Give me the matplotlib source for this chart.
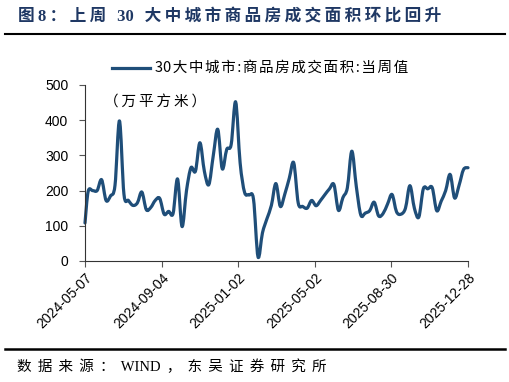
import matplotlib
matplotlib.use('Agg')
import matplotlib.pyplot as plt
import matplotlib.dates as mdates
from matplotlib.path import Path
from matplotlib.patches import PathPatch
from matplotlib.lines import Line2D
import numpy as np
import pandas as pd

# 数据（从图上读取，万平方米）
dates = [pd.Timestamp('2024-05-07')] + list(pd.date_range('2024-05-12', '2025-12-28', freq='7D'))
values = [108, 198, 200, 200, 231, 172, 185, 215, 398, 190,
          172, 158, 165, 196, 146, 152, 172, 178, 133, 141,
          135, 233, 98, 200, 265, 255, 336, 255, 217, 300,
          374, 262, 317, 331, 452, 279, 195, 188, 175, 12,
          80, 120, 158, 220, 155, 190, 235, 279, 165, 155,
          150, 172, 157, 172, 189, 205, 217, 144, 180, 208,
          312, 212, 131, 136, 143, 167, 128, 135, 162, 189,
          140, 133, 150, 214, 150, 125, 205, 205, 208, 143,
          170, 200, 246, 179, 215, 260, 265]
tick_dates = ['2024-05-07', '2024-09-04', '2025-01-02', '2025-05-02', '2025-08-30', '2025-12-28']
series_name = '30大中城市:商品房成交面积:当周值'
title = '图8：上周 30 大中城市商品房成交面积环比回升'
unit = '（万平方米）'
source = '数据来源：WIND，东吴证券研究所'

line_color = '#1f4e79'
cjk = ['Noto Sans CJK SC', 'DejaVu Sans']
serif_cjk = ['Liberation Serif', 'Noto Sans CJK SC', 'DejaVu Sans']


def spaced(s, sep):
    # 模拟原图的字间距：只在中文字符和空格旁加空隙
    out = s[0]
    for a, b in zip(s, s[1:]):
        if ord(a) > 127 or ord(b) > 127 or ' ' in (a, b):
            out += sep
        out += b
    return out


fig = plt.figure(figsize=(5.1, 3.82), dpi=100)
ax = fig.add_axes([85 / 510, 1 - 261 / 382, (468 - 85) / 510, (261 - 85) / 382])

# 平滑曲线（Catmull-Rom -> 三次贝塞尔）
x = mdates.date2num(dates)
y = np.array(values, dtype=float)
verts = [(x[0], y[0])]
codes = [Path.MOVETO]
n = len(x)
for i in range(n - 1):
    p0 = (x[i - 1], y[i - 1]) if i > 0 else (x[i], y[i])
    p1 = (x[i], y[i])
    p2 = (x[i + 1], y[i + 1])
    p3 = (x[i + 2], y[i + 2]) if i + 2 < n else (x[i + 1], y[i + 1])
    c1 = (p1[0] + (p2[0] - p0[0]) / 6, p1[1] + (p2[1] - p0[1]) / 6)
    c2 = (p2[0] - (p3[0] - p1[0]) / 6, p2[1] - (p3[1] - p1[1]) / 6)
    verts += [c1, c2, p2]
    codes += [Path.CURVE4] * 3
patch = PathPatch(Path(verts, codes), facecolor='none', edgecolor=line_color,
                  lw=2.3, capstyle='round', joinstyle='round', clip_on=False)
ax.add_patch(patch)

ax.set_xlim(x[0], x[-1])
ax.set_ylim(0, 500)
ax.set_yticks([0, 100, 200, 300, 400, 500])
ax.set_xticks(mdates.date2num(pd.to_datetime(tick_dates)))
ax.set_xticklabels(tick_dates, rotation=45, ha='right', rotation_mode='anchor')

for s in ['top', 'right']:
    ax.spines[s].set_visible(False)
ax.spines['left'].set_color('#333333')
ax.spines['bottom'].set_color('#333333')
ax.tick_params(axis='both', labelsize=10, length=4, width=0.8, color='#555555', pad=3)
ax.tick_params(axis='y', pad=8)
for lab in ax.get_xticklabels() + ax.get_yticklabels():
    lab.set_fontfamily(['Liberation Sans', 'DejaVu Sans'])

ax.text(0.05, 0.9, spaced(unit, '\u2009'), transform=ax.transAxes, fontsize=10.5,
        family=cjk, va='center')

# 图例
fig.add_artist(Line2D([112 / 510, 150 / 510], [1 - 68 / 382] * 2, color=line_color, lw=2.3))
fig.text(155 / 510, 1 - 68 / 382, spaced(series_name, '\u200a'), fontsize=10.5,
         family=cjk, va='center')

# 标题与来源
fig.text(18 / 510, 1 - 17 / 382, spaced(title, '\u2009'), fontsize=12, fontweight='bold',
         family=serif_cjk, color='#1f3864', va='center')
fig.add_artist(Line2D([5 / 510, 505 / 510], [1 - 34 / 382] * 2, color='black', lw=1.5))
fig.add_artist(Line2D([5 / 510, 505 / 510], [1 - 349 / 382] * 2, color='black', lw=1.8))
fig.text(17 / 510, 1 - 367 / 382, spaced(source, '\u2004\u200a'), fontsize=10.5,
         family=serif_cjk, va='center')

fig.savefig('out.png', dpi=100)
